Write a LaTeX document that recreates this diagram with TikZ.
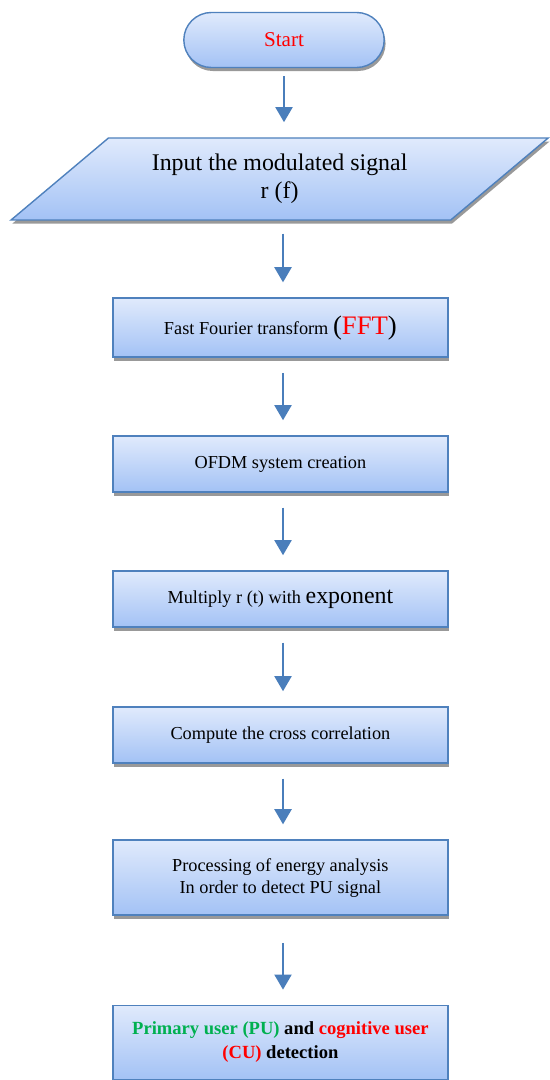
\documentclass[tikz,border=0pt]{standalone}
\usepackage{fontspec}
\setmainfont{Liberation Serif}
\usepackage{tikz}
\usetikzlibrary{shapes.geometric}
\usetikzlibrary{shapes.misc}
\usetikzlibrary{shadows}
\usetikzlibrary{arrows.meta}
\definecolor{edgeblue}{HTML}{4F81BD}
\definecolor{arrowblue}{HTML}{4A7EBB}
\definecolor{toplight}{HTML}{E0EAFC}
\definecolor{botdark}{HTML}{A3C2F5}
\definecolor{pugreen}{HTML}{00B050}
\tikzstyle{block}=[draw=edgeblue, line width=1pt, top color=toplight, bottom color=botdark, drop shadow={shadow xshift=1pt, shadow yshift=-2.5pt, fill=black!40, opacity=1}, align=center, inner sep=2pt]
\tikzstyle{step box}=[block, rectangle, minimum width=8.375cm, minimum height=1.4cm, font=\fontsize{13pt}{15.6pt}\selectfont]
\tikzstyle{flow}=[arrowblue, line width=2.1pt, -{Triangle[width=0.42cm, length=0.38cm]}, shorten <=0.375cm, shorten >=0.375cm]

\begin{document}
\begin{tikzpicture}
    \useasboundingbox (0, 0) rectangle (13.725, -27);
    \node[block, rounded rectangle, minimum width=5.15cm, minimum height=1.375cm, font=\fontsize{15pt}{17pt}\selectfont, text=red] (start) at (7.1, -1) {Start};
    \node[block, trapezium, trapezium left angle=36.7, trapezium right angle=143.3, trapezium stretches=true, minimum width=13.475cm, minimum height=2.05cm, font=\fontsize{17pt}{20pt}\selectfont] (input) at (6.99, -4.475) {Input the modulated signal\\r (f)};
    \node[step box, minimum height=1.475cm] (fft) at (7.01, -8.19) {Fast Fourier transform {\fontsize{19pt}{19pt}\selectfont(\textcolor{red}{FFT})}};
    \node[step box] (ofdm) at (7.01, -11.6) {OFDM system creation};
    \node[step box] (mult) at (7.01, -14.975) {Multiply r (t) with {\fontsize{17pt}{17pt}\selectfont exponent}};
    \node[step box] (corr) at (7.01, -18.375) {Compute the cross correlation};
    \node[step box, minimum height=1.875cm] (proc) at (7.01, -21.94) {Processing of energy analysis\\In order to detect PU signal};
    \node[step box, minimum height=1.85cm, font=\fontsize{13.2pt}{17pt}\selectfont\bfseries] (detect) at (7.01, -26.06) {\textcolor{pugreen}{Primary user (PU)} and \textcolor{red}{cognitive user}\\\textcolor{red}{(CU)} detection};
    \coordinate (A1) at (7.1, 0);
    \coordinate (A2) at (7.075, 0);
    \draw[flow, shorten <=0.2cm] (start.south -| A1) -- (input.north -| A1);
    \draw[flow, shorten <=0.325cm] (input.south -| A2) -- (fft.north -| A2);
    \draw[flow] (fft.south -| A2) -- (ofdm.north -| A2);
    \draw[flow] (ofdm.south -| A2) -- (mult.north -| A2);
    \draw[flow] (mult.south -| A2) -- (corr.north -| A2);
    \draw[flow] (corr.south -| A2) -- (proc.north -| A2);
    \draw[flow, shorten <=0.675cm] (proc.south -| A2) -- (detect.north -| A2);
\end{tikzpicture}
\end{document}
